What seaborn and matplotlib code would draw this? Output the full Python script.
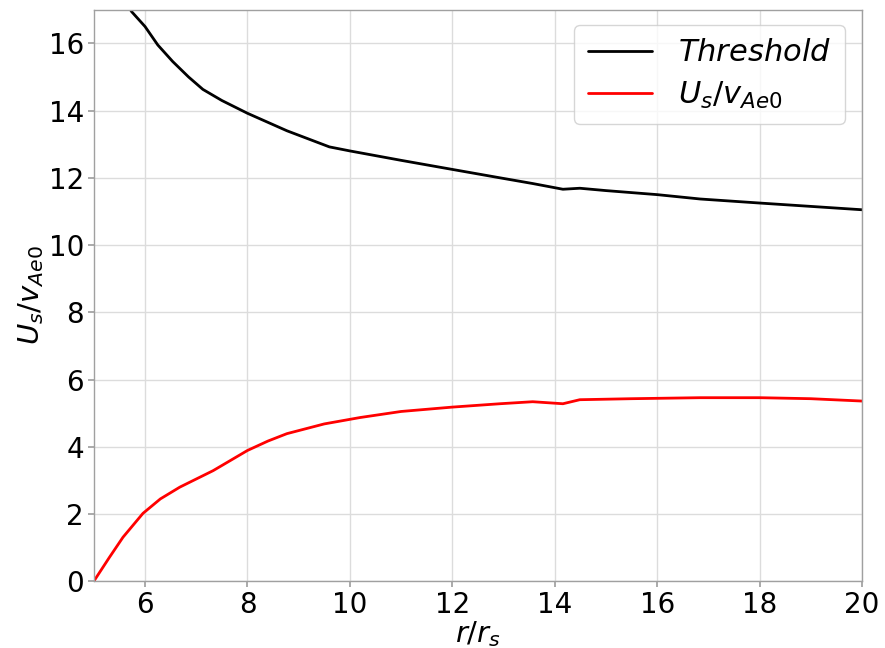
import matplotlib
matplotlib.use("Agg")
import matplotlib.pyplot as plt
import seaborn as sns
import pandas as pd

thr_r = [5.5, 5.74, 6.0, 6.25, 6.54, 6.85, 7.13, 7.5, 8.0, 8.77, 9.6, 10.0, 11.0, 12.0, 12.93,
         13.57, 14.16, 14.49, 15.0, 16.0, 16.84, 18.0, 19.0, 20.0]
thr_v = [17.5, 16.94, 16.5, 15.95, 15.46, 15.0, 14.63, 14.3, 13.92, 13.4, 12.92, 12.8, 12.52,
         12.25, 12.0, 11.83, 11.66, 11.69, 11.62, 11.5, 11.37, 11.25, 11.15, 11.05]

us_r = [5.0, 5.3, 5.57, 5.96, 6.3, 6.68, 7.33, 8.0, 8.4, 8.77, 9.5, 10.2, 11.0, 12.0, 12.93,
        13.57, 14.16, 14.49, 15.5, 16.84, 18.0, 19.0, 20.0]
us_v = [0.0, 0.7, 1.31, 2.02, 2.45, 2.8, 3.29, 3.89, 4.17, 4.39, 4.68, 4.87, 5.05, 5.18, 5.28,
        5.34, 5.28, 5.40, 5.43, 5.46, 5.46, 5.43, 5.36]

labels = [r"$Threshold$", r"$U_s/v_{Ae0}$"]

sns.set_theme(style="whitegrid", rc={
    "axes.edgecolor": "#a0a0a0",
    "grid.color": "#dcdcdc",
    "axes.linewidth": 1.0,
    "xtick.bottom": True, "ytick.left": True,
    "xtick.color": "#a0a0a0", "ytick.color": "#a0a0a0",
    "xtick.labelcolor": "black", "ytick.labelcolor": "black",
    "xtick.major.size": 4, "ytick.major.size": 4,
    "text.color": "black",
})
plt.rcParams['font.family'] = ['DejaVu Sans']
plt.rcParams['mathtext.fontset'] = 'dejavusans'

df = pd.concat([
    pd.DataFrame({"r": thr_r, "v": thr_v, "s": labels[0]}),
    pd.DataFrame({"r": us_r, "v": us_v, "s": labels[1]}),
])

fig = plt.figure(figsize=(8.85, 6.48), dpi=100)
ax = fig.add_axes([0.106, 0.103, 0.868, 0.882])
sns.lineplot(data=df, x="r", y="v", hue="s", palette=["black", "red"],
             linewidth=2, ax=ax, sort=False)
ax.set_xlim(5, 20)
ax.set_ylim(0, 17)
ax.set_xticks([6, 8, 10, 12, 14, 16, 18, 20])
ax.set_yticks([0, 2, 4, 6, 8, 10, 12, 14, 16])
ax.tick_params(labelsize=20, pad=3)
ax.set_xlabel(r"$r/r_s$", fontsize=21, color="black", labelpad=0)
ax.set_ylabel(r"$U_s/v_{Ae0}$", fontsize=21, color="black", labelpad=2)
leg = ax.legend(title=None, fontsize=22, loc="upper right", handlelength=2.1,
                handletextpad=0.85, borderpad=0.45, labelspacing=0.4,
                borderaxespad=0, bbox_to_anchor=(0.978, 0.974), labelcolor="black")
fig.savefig("out.png", dpi=100)
